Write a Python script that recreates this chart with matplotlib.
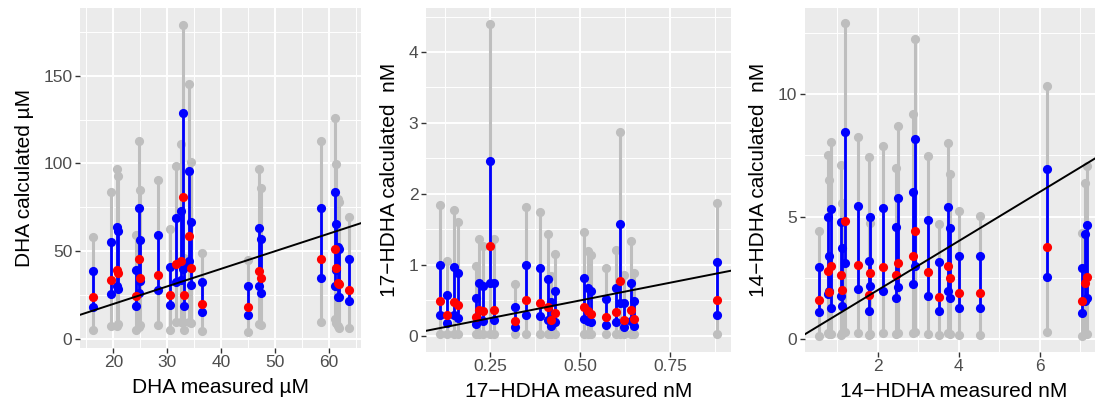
import numpy as np
import matplotlib
matplotlib.use("Agg")
import matplotlib.pyplot as plt
from matplotlib.ticker import MultipleLocator

plt.rcParams['font.family'] = ['Liberation Sans', 'DejaVu Sans']

# ========== DHA (µM) ==========
dha_x = [16.3, 19.5, 20.6, 20.9, 24.2, 24.7, 25.0, 28.3, 30.6, 31.6, 32.6, 33.0, 33.2,
         34.0, 34.4, 36.4, 45.0, 47.1, 47.4, 58.5, 61.2, 61.3, 61.7, 61.9, 63.7]
dha_min = [5.3, 7.2, 7.6, 8.3, 5.3, 6.8, 8.1, 8.1, 5.3, 9.7, 10.0, 10.0, 5.3,
           10.0, 9.1, 4.4, 3.8, 8.7, 7.8, 10.0, 11.4, 9.1, 7.2, 6.4, 6.1]
dha_max = [58.0, 83.5, 96.6, 93.0, 59.0, 112.5, 84.8, 90.3, 62.9, 98.7, 111.0, 179.0, 46.0,
           145.5, 101.0, 48.9, 45.0, 96.6, 86.2, 113.0, 125.8, 99.4, 79.5, 78.0, 69.5]
dha_lo = [18.4, 25.4, 30.0, 28.4, 18.6, 26.1, 33.0, 27.7, 19.3, 32.4, 33.7, 40.0, 19.0,
          44.5, 30.9, 15.2, 13.6, 30.0, 26.5, 34.7, 30.5, 39.4, 23.9, 24.2, 21.4]
dha_hi = [38.6, 55.0, 64.0, 61.4, 39.4, 74.4, 56.4, 59.0, 41.3, 69.0, 72.9, 128.6, 41.0,
          95.6, 66.5, 32.4, 30.0, 63.4, 57.0, 74.4, 83.5, 65.5, 52.3, 51.5, 45.8]
dha_med = [23.9, 33.5, 39.6, 37.5, 24.6, 45.8, 34.5, 36.2, 25.2, 42.6, 44.3, 80.9, 25.0,
           58.7, 40.7, 19.9, 18.4, 39.0, 35.0, 45.6, 51.5, 40.3, 31.8, 31.2, 28.2]

# ========== 17-HDHA (nM) ==========
h17_x = [0.109, 0.129, 0.150, 0.160, 0.209, 0.218, 0.230, 0.250, 0.260, 0.319, 0.349, 0.389, 0.409,
         0.420, 0.430, 0.509, 0.520, 0.530, 0.570, 0.600, 0.609, 0.620, 0.640, 0.650, 0.880]
h17_min = [0.03] * 25
h17_max = [1.84, 1.05, 1.77, 1.61, 0.98, 1.36, 1.27, 4.39, 1.36, 0.73, 1.82, 1.74, 1.43,
           0.85, 1.15, 1.47, 1.20, 1.14, 0.95, 1.21, 2.87, 0.86, 1.34, 0.89, 1.87]
h17_lo = [0.30, 0.18, 0.29, 0.25, 0.17, 0.22, 0.21, 0.75, 0.22, 0.12, 0.30, 0.28, 0.23,
          0.14, 0.20, 0.24, 0.21, 0.19, 0.15, 0.20, 0.47, 0.13, 0.21, 0.14, 0.30]
h17_hi = [1.00, 0.58, 0.97, 0.88, 0.54, 0.75, 0.70, 2.46, 0.75, 0.41, 1.00, 0.96, 0.80,
          0.48, 0.63, 0.82, 0.67, 0.63, 0.52, 0.67, 1.57, 0.47, 0.75, 0.49, 1.04]
h17_med = [0.49, 0.30, 0.48, 0.44, 0.27, 0.37, 0.35, 1.26, 0.37, 0.21, 0.51, 0.47, 0.41,
           0.23, 0.32, 0.41, 0.35, 0.31, 0.27, 0.33, 0.77, 0.23, 0.37, 0.24, 0.51]

# ========== 14-HDHA (nM) ==========
h14_x = [0.56, 0.78, 0.81, 0.84, 1.09, 1.13, 1.20, 1.51, 1.79, 1.82, 2.12, 2.45, 2.51,
         2.86, 2.93, 3.24, 3.52, 3.73, 3.78, 4.02, 4.53, 6.19, 7.04, 7.11, 7.16]
h14_min = [0.14, 0.24, 0.22, 0.22, 0.19, 0.24, 0.31, 0.24, 0.18, 0.20, 0.24, 0.22, 0.24,
           0.27, 0.31, 0.20, 0.16, 0.24, 0.22, 0.16, 0.16, 0.29, 0.14, 0.20, 0.22]
h14_max = [4.41, 7.50, 6.50, 8.04, 7.09, 5.55, 12.87, 8.23, 7.41, 4.73, 7.89, 6.98, 8.71,
           9.16, 12.24, 7.46, 4.69, 8.00, 6.72, 5.22, 5.03, 10.33, 4.33, 6.37, 7.05]
h14_lo = [1.09, 1.85, 1.95, 1.28, 1.77, 1.36, 3.10, 2.03, 1.17, 2.18, 1.96, 1.70, 2.11,
          2.24, 2.97, 1.78, 1.17, 1.97, 1.67, 1.27, 1.27, 2.52, 1.06, 1.54, 1.70]
h14_hi = [2.95, 5.00, 3.40, 5.32, 4.76, 3.71, 8.45, 5.41, 3.18, 4.97, 5.35, 4.57, 5.77,
          6.00, 8.18, 4.84, 3.13, 5.39, 4.54, 3.40, 3.40, 6.94, 2.90, 4.29, 4.65]
h14_med = [1.60, 2.78, 1.92, 2.97, 2.63, 2.01, 4.82, 3.03, 1.80, 2.69, 2.93, 2.60, 3.10,
           3.40, 4.42, 2.73, 1.74, 2.97, 2.49, 1.90, 1.88, 3.76, 1.56, 2.31, 2.53]

W, H = 1095, 405
fig = plt.figure(figsize=(W / 100, H / 100), dpi=100)


def px_axes(left, right, top, bottom):
    return fig.add_axes([left / W, 1 - bottom / H, (right - left) / W, (bottom - top) / H])


def draw_panel(ax, x, gmin, gmax, lo, hi, med, xlim, ylim, xmaj, xmin_, ymaj, ymin_, xlabel, ylabel):
    ax.set_facecolor('#EBEBEB')
    for s in ax.spines.values():
        s.set_visible(False)
    ax.xaxis.set_major_locator(MultipleLocator(xmaj))
    ax.xaxis.set_minor_locator(MultipleLocator(xmin_))
    ax.yaxis.set_major_locator(MultipleLocator(ymaj))
    ax.yaxis.set_minor_locator(MultipleLocator(ymin_))
    ax.grid(which='major', color='white', lw=1.4)
    ax.grid(which='minor', color='white', lw=0.7)
    ax.set_axisbelow(True)
    ax.tick_params(which='major', length=3.5, width=1.0, color='#333333',
                   labelcolor='#4D4D4D', labelsize=12.5, pad=2)
    ax.tick_params(which='minor', length=0)

    ms = 6.6
    ax.vlines(x, gmin, gmax, color='#BEBEBE', lw=2.2, zorder=2)
    ax.plot(x, gmin, 'o', color='#BEBEBE', ms=ms, mew=0, zorder=2)
    ax.plot(x, gmax, 'o', color='#BEBEBE', ms=ms, mew=0, zorder=2)
    ax.vlines(x, lo, hi, color='#0000FF', lw=2.0, zorder=3)
    ax.plot(x, lo, 'o', color='#0000FF', ms=ms, mew=0, zorder=3)
    ax.plot(x, hi, 'o', color='#0000FF', ms=ms, mew=0, zorder=3)
    ax.plot(x, med, 'o', color='#FF0000', ms=ms, mew=0, zorder=4)
    ax.axline((0, 0), slope=1, color='black', lw=1.4, zorder=5)

    ax.set_xlim(*xlim)
    ax.set_ylim(*ylim)
    ax.set_xlabel(xlabel, fontsize=15, labelpad=6)
    ax.set_ylabel(ylabel, fontsize=15, labelpad=7)


ax1 = px_axes(80, 361, 8, 347.5)
draw_panel(ax1, dha_x, dha_min, dha_max, dha_lo, dha_hi, dha_med,
           (13.8, 66.0), (-4.8, 188.5), 10, 5, 50, 25,
           'DHA measured µM', 'DHA calculated µM')

ax2 = px_axes(426, 731, 8, 351.5)
draw_panel(ax2, h17_x, h17_min, h17_max, h17_lo, h17_hi, h17_med,
           (0.0715, 0.9185), (-0.22, 4.62), 0.25, 0.125, 1, 0.5,
           '17\u2212HDHA measured nM', '17\u2212HDHA calculated  nM')
ax2.xaxis.set_major_formatter(plt.FuncFormatter(lambda v, p: f'{v:.2f}'))

ax3 = px_axes(805, 1102, 8, 351.5)
draw_panel(ax3, h14_x, h14_min, h14_max, h14_lo, h14_hi, h14_med,
           (0.205, 7.54), (-0.5, 13.5), 2, 1, 5, 2.5,
           '14\u2212HDHA measured nM', '14\u2212HDHA calculated  nM')

fig.savefig('out.png', dpi=100)
